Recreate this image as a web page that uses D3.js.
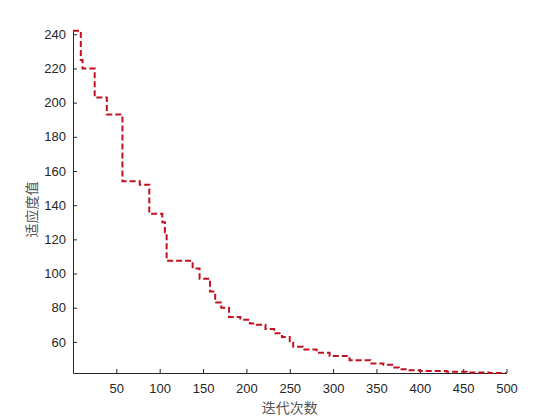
<!DOCTYPE html>
<html>
<head>
<meta charset="utf-8">
<script src="https://cdn.jsdelivr.net/npm/d3@7"></script>
<style>
  html, body { margin: 0; padding: 0; background: #fff; }
  svg { display: block; }
</style>
</head>
<body>
<svg id="chart" width="560" height="420"></svg>
<script>
// Data
const iterations = [0, 9, 11, 25, 39, 57, 77, 88, 103, 106, 108, 138, 146, 158, 164, 171, 180, 193, 204, 212, 222, 232, 241, 250, 254, 265, 281, 296, 319, 343, 358, 368, 376, 385, 400, 431, 454, 480, 500];
const fitness    = [242, 225, 220, 203, 193, 154, 152, 135, 130, 124, 107.5, 103, 97, 89.5, 83, 80, 74.5, 73, 70.7, 70, 67.5, 65, 62.8, 60.4, 57.1, 55.6, 53.6, 51.7, 49.3, 47.4, 46.6, 45, 44, 43.4, 42.9, 42.5, 42.1, 41.8, 41.8];
const xTicks = [50, 100, 150, 200, 250, 300, 350, 400, 450, 500];
const yTicks = [60, 80, 100, 120, 140, 160, 180, 200, 220, 240];
const xTitle = "迭代次数";
const yTitle = "适应度值";

const svg = d3.select("#chart");
const mLeft = 73, mRight = 506.5, mTop = 30, mBottom = 373;
const x = d3.scaleLinear().domain([0, 500]).range([mLeft, mRight]);
const y = d3.scaleLinear().domain([41.8, 242.5]).range([mBottom, mTop]);

const axisColor = "#262626";
const fontFam = "Arial, 'Liberation Sans', Helvetica, sans-serif";

// X axis
const gx = svg.append("g").attr("transform", `translate(0,${mBottom})`)
  .call(d3.axisBottom(x).tickValues(xTicks).tickSizeInner(-4).tickSizeOuter(0).tickPadding(11));
// Y axis
const gy = svg.append("g").attr("transform", `translate(${mLeft},0)`)
  .call(d3.axisLeft(y).tickValues(yTicks).tickSizeInner(-4).tickSizeOuter(0).tickPadding(7));

[gx, gy].forEach(g => {
  g.select(".domain").attr("stroke", axisColor).attr("stroke-width", 1);
  g.selectAll(".tick line").attr("stroke", axisColor);
  g.selectAll(".tick text").attr("fill", axisColor)
    .style("font-family", fontFam).style("font-size", "13px");
});

// Line
const line = d3.line()
  .x((d, i) => x(iterations[i]))
  .y((d, i) => y(fitness[i]))
  .curve(d3.curveStepAfter);

svg.append("path")
  .datum(fitness)
  .attr("d", line)
  .attr("fill", "none")
  .attr("stroke", "#c0121e")
  .attr("stroke-width", 2)
  .attr("stroke-dasharray", "6,3");

// Titles
svg.append("text")
  .attr("x", (mLeft + mRight) / 2)
  .attr("y", 413)
  .attr("text-anchor", "middle")
  .attr("fill", "#555")
  .style("font-family", "'Noto Sans CJK SC', sans-serif")
  .style("font-size", "14px")
  .text(xTitle);

svg.append("text")
  .attr("transform", `translate(37,${(mTop + mBottom) / 2 + 8}) rotate(-90)`)
  .attr("text-anchor", "middle")
  .attr("fill", "#555")
  .style("font-family", "'Noto Sans CJK SC', sans-serif")
  .style("font-size", "14px")
  .text(yTitle);
</script>
</body>
</html>
